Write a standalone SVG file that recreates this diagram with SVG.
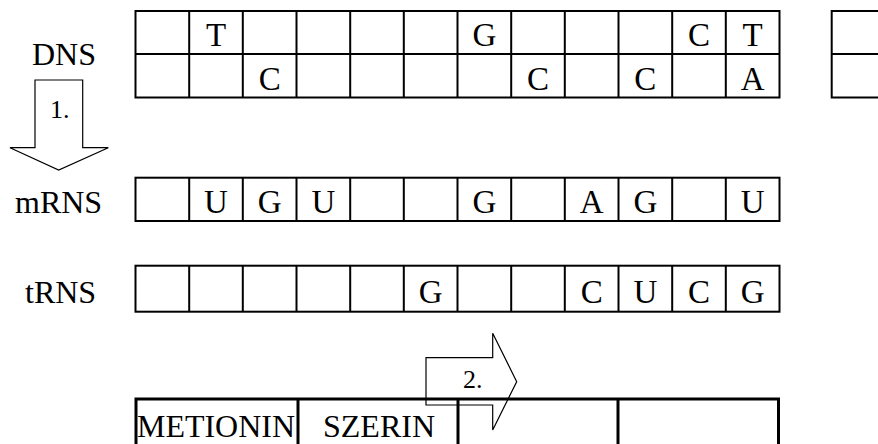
<svg xmlns="http://www.w3.org/2000/svg" width="878" height="444" viewBox="0 0 878 444">
<style>
.g{fill:none;stroke:#000;stroke-width:2}
.t{fill:none;stroke:#000;stroke-width:3}
.a{fill:none;stroke:#000;stroke-width:1.2;stroke-linejoin:miter}
text{font-family:"Liberation Serif","Times New Roman",serif;fill:#000}
.L{font-size:33px;text-anchor:middle}
.lab{font-size:32px}
.n{font-size:26px}
</style>
<rect width="878" height="444" fill="#fff"/>
<g id="dns-label"><text class="lab" x="32" y="65">DNS</text></g>
<g id="dns">
<rect class="g" x="135.5" y="11" width="644" height="86.5"/>
<path class="g" d="M135.5 54H779.5M189.2 11V97.5M242.8 11V97.5M296.5 11V97.5M350.2 11V97.5M403.8 11V97.5M457.5 11V97.5M511.2 11V97.5M564.8 11V97.5M618.5 11V97.5M672.2 11V97.5M725.8 11V97.5"/>
<text class="L" x="216" y="46">T</text>
<text class="L" x="484.3" y="46">G</text>
<text class="L" x="699" y="46">C</text>
<text class="L" x="752.7" y="46">T</text>
<text class="L" x="269.7" y="90">C</text>
<text class="L" x="538" y="90">C</text>
<text class="L" x="645.3" y="90">C</text>
<text class="L" x="752.7" y="90">A</text>
</g>
<g id="dns-extra">
<path class="g" d="M890 11H831.7V97.5H890M831.7 54H890"/>
</g>
<g id="mrns-label"><text class="lab" x="15" y="213.3">mRNS</text></g>
<g id="mrns">
<rect class="g" x="135.5" y="177.7" width="644" height="43.3"/>
<path class="g" d="M189.2 177.7V221M242.8 177.7V221M296.5 177.7V221M350.2 177.7V221M403.8 177.7V221M457.5 177.7V221M511.2 177.7V221M564.8 177.7V221M618.5 177.7V221M672.2 177.7V221M725.8 177.7V221"/>
<text class="L" x="216" y="213.3">U</text>
<text class="L" x="269.7" y="213.3">G</text>
<text class="L" x="323.3" y="213.3">U</text>
<text class="L" x="484.3" y="213.3">G</text>
<text class="L" x="591.7" y="213.3">A</text>
<text class="L" x="645.3" y="213.3">G</text>
<text class="L" x="752.7" y="213.3">U</text>
</g>
<g id="trns-label"><text class="lab" x="25" y="303.3">tRNS</text></g>
<g id="trns">
<rect class="g" x="135.5" y="265.7" width="644" height="46"/>
<path class="g" d="M189.2 265.7V311.7M242.8 265.7V311.7M296.5 265.7V311.7M350.2 265.7V311.7M403.8 265.7V311.7M457.5 265.7V311.7M511.2 265.7V311.7M564.8 265.7V311.7M618.5 265.7V311.7M672.2 265.7V311.7M725.8 265.7V311.7"/>
<text class="L" x="430.7" y="303.3">G</text>
<text class="L" x="591.7" y="303.3">C</text>
<text class="L" x="645.3" y="303.3">U</text>
<text class="L" x="699" y="303.3">C</text>
<text class="L" x="752.7" y="303.3">G</text>
</g>
<g id="protein">
<path class="t" d="M136 460V399H778.5V460M298 399V460M458 399V460M618 399V460"/>
<text class="lab" x="137" y="437.3" textLength="158" lengthAdjust="spacingAndGlyphs">METIONIN</text>
<text class="lab" x="323" y="437.3">SZERIN</text>
</g>
<g id="connectors">
<g id="arrow1">
<path class="a" d="M35 80H82.7V147.7H108.3L58.7 170L10 147.7H35Z"/>
<text class="n" x="50" y="118.3">1.</text>
</g>
<g id="arrow2">
<path class="a" d="M426 357.7H492.7V333.3L516.7 381.7L492.7 430V405H426Z"/>
<text class="n" x="463" y="388">2.</text>
</g>
</g>
</svg>
